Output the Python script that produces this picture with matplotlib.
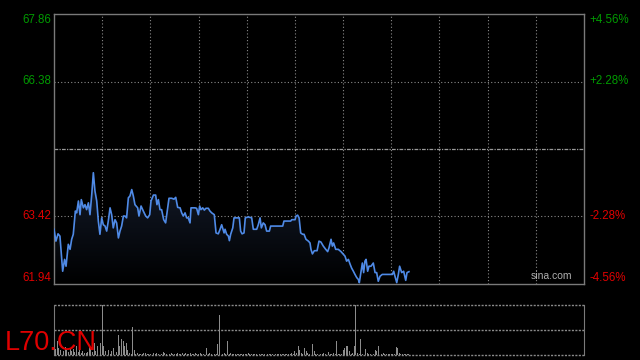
import numpy as np
import matplotlib.pyplot as plt
from matplotlib.patches import Polygon

# intraday price path: minute since open, price
minutes = [0, 1.2, 2.5, 3.7, 5.4, 6.6, 7.5, 8.9, 10.0, 11.0, 12.0, 13.3, 14.1, 15.2, 16.2,
           17.0, 18.3, 19.3, 20.3, 21.4, 22.4, 23.5, 24.5, 25.5, 26.6, 27.6, 28.6, 29.7,
           30.7, 31.8, 32.8, 33.8, 34.9, 35.9, 36.9, 38.0, 39.0, 40.1, 41.1, 42.1, 43.2,
           44.2, 45.2, 46.3, 47.3, 48.4, 49.4, 50.4, 52.1, 52.9, 54.2, 55.6, 57.1, 58.3,
           59.6, 60.4, 61.9, 63.3, 64.1, 65.0, 66.0, 67.0, 68.3, 69.5, 70.8, 71.6, 73.3,
           74.7, 75.8, 77.0, 78.5, 79.5, 80.5, 81.6, 82.6, 83.6, 84.7, 85.3, 86.1, 87.8,
           88.8, 89.9, 90.7, 91.5, 92.6, 93.6, 94.6, 96.1, 97.1, 98.2, 99.8, 100.9, 102.3,
           103.4, 104.4, 105.9, 106.5, 107.5, 108.6, 109.2, 110.0, 111.3, 112.1, 113.7,
           115.4, 116.2, 117.1, 118.3, 119.1, 121.0, 123.1, 124.1, 126.2, 127.2, 128.3,
           129.1, 130.3, 131.4, 132.4, 134.1, 134.9, 138.6, 142.4, 143.2, 147.4, 148.0,
           150.1, 150.7, 151.7, 152.6, 153.6, 154.8, 155.7, 156.9, 158.4, 159.4, 160.0,
           160.9, 162.1, 163.8, 165.0, 166.2, 167.7, 169.2, 170.4, 171.2, 172.5, 173.3,
           174.1, 175.4, 177.0, 178.7, 180.2, 181.2, 182.2, 183.3, 184.3, 185.3, 186.4,
           187.4, 188.5, 189.5, 190.1, 191.2, 192.0, 192.8, 193.6, 194.3, 195.3, 196.1,
           197.4, 198.8, 199.9, 200.9, 201.9, 203.0, 204.4, 210.7, 211.5, 212.3, 213.4,
           214.4, 215.2, 216.5, 217.7, 219.0, 219.8, 221.0]
prices = [63.14, 62.88, 63.04, 62.99, 62.22, 62.48, 62.33, 62.81, 62.70, 62.92, 63.03, 63.54,
          63.50, 63.76, 63.46, 63.79, 63.61, 63.68, 63.57, 63.72, 63.46, 63.90, 64.38, 63.98,
          63.76, 63.32, 63.03, 63.39, 63.24, 63.21, 63.10, 63.32, 63.61, 63.46, 63.17, 63.35,
          63.28, 62.95, 63.10, 63.21, 63.43, 63.43, 63.39, 63.83, 63.87, 64.01, 63.87, 63.68,
          63.61, 63.43, 63.65, 63.54, 63.43, 63.39, 63.46, 63.76, 63.89, 63.89, 63.68, 63.79,
          63.57, 63.57, 63.35, 63.28, 63.61, 63.82, 63.82, 63.80, 63.84, 63.62, 63.61, 63.50,
          63.43, 63.50, 63.39, 63.39, 63.28, 63.61, 63.61, 63.61, 63.60, 63.46, 63.65, 63.57,
          63.61, 63.56, 63.60, 63.60, 63.54, 63.50, 63.46, 63.06, 63.04, 63.14, 63.24, 63.06,
          63.14, 63.03, 62.99, 62.89, 63.03, 63.17, 63.39, 63.39, 63.39, 63.10, 63.04, 63.06,
          63.39, 63.41, 63.39, 63.14, 63.14, 63.24, 63.39, 63.17, 63.28, 63.24, 63.10, 63.10,
          63.21, 63.21, 63.21, 63.32, 63.32, 63.35, 63.35, 63.43, 63.45, 63.39, 63.06, 63.03,
          63.03, 62.92, 62.88, 62.84, 62.70, 62.60, 62.67, 62.67, 62.88, 62.86, 62.77, 62.70,
          62.65, 62.73, 62.92, 62.77, 62.84, 62.70, 62.70, 62.65, 62.59, 62.55, 62.44, 62.48,
          62.38, 62.29, 62.22, 62.15, 62.08, 62.04, 61.97, 62.22, 62.40, 62.19, 62.44, 62.48,
          62.22, 62.33, 62.33, 62.40, 62.19, 62.19, 62.00, 62.11, 62.15, 62.15, 62.22, 62.11,
          61.97, 62.15, 62.33, 62.19, 62.22, 62.02, 62.19, 62.21]

# per-minute volume, relative to the largest bar
volume = [30, 12, 27, 13, 10, 18, 8, 15, 10, 6, 14, 8, 12, 5, 17, 6, 10, 4, 7, 4,
          3, 6, 17, 13, 5, 24, 8, 17, 30, 24, 99, 17, 7, 3, 10, 2, 7, 13, 3, 5,
          40, 17, 32, 28, 17, 24, 10, 3, 2, 55, 10, 2, 3, 2, 1, 2, 4, 3, 2, 1,
          2, 10, 3, 2, 3, 1, 2, 1, 5, 3, 1, 2, 1, 3, 2, 1, 2, 3, 1, 2,
          4, 2, 3, 1, 2, 3, 1, 1, 3, 1, 2, 3, 1, 2, 1, 13, 2, 3, 1, 2,
          1, 2, 22, 79, 3, 2, 3, 1, 28, 2, 3, 2, 1, 2, 2, 1, 2, 1, 2, 1,
          2, 3, 1, 2, 1, 2, 1, 2, 1, 2, 1, 2, 1, 2, 1, 2, 1, 2, 1, 2,
          1, 2, 1, 2, 1, 2, 1, 2, 3, 2, 7, 4, 17, 10, 3, 2, 13, 8, 3, 2,
          3, 22, 7, 2, 2, 1, 2, 1, 3, 2, 3, 5, 2, 1, 3, 2, 28, 1, 2, 2,
          10, 13, 17, 17, 7, 2, 3, 17, 99, 3, 2, 32, 2, 13, 11, 3, 2, 2, 8, 2,
          10, 7, 18, 54, 2, 3, 2, 1, 2, 1, 2, 1, 2, 15, 13, 3, 2, 1, 2, 1,
          1, 2]

prev_close = 64.90
y_lo, y_hi = 61.94, 67.86
left_labels = ["67.86", "66.38", "63.42", "61.94"]
right_labels = ["+4.56%", "+2.28%", "-2.28%", "-4.56%"]
label_vals = [67.86, 66.38, 63.42, 61.94]

green = "#009a00"
red = "#e00000"
grid_c = "#8a8a8a"
frame_c = "#7a7a7a"

plt.rcParams['font.family'] = ['Liberation Sans', 'DejaVu Sans']
fig = plt.figure(figsize=(6.4, 3.6), dpi=100, facecolor='black')

ax = fig.add_axes([54/640, 1-284/360, 530/640, 270/360], facecolor='black')
ax.set_xlim(0, 330)
ax.set_ylim(y_lo, y_hi)

for x in range(30, 330, 30):
    ax.axvline(x, color=grid_c, lw=0.8, ls=(0, (1, 2)), zorder=1)
for v in [66.38, 63.42]:
    ax.axhline(v, color=grid_c, lw=0.8, ls=(0, (1, 2)), zorder=1)
ax.axhline(prev_close, color="#9a9a9a", lw=0.9, ls=(0, (3, 1, 1, 1)), zorder=1)

# gradient fill under the line
grad = np.linspace(0, 1, 256).reshape(-1, 1)
img = ax.imshow(grad, extent=[0, 330, y_lo, 64.4], origin='lower', aspect='auto',
                cmap=plt.matplotlib.colors.LinearSegmentedColormap.from_list(
                    'f', ['#000000', '#141c2c']), zorder=2)
poly = Polygon(list(zip(minutes, prices)) + [(minutes[-1], y_lo), (minutes[0], y_lo)],
               closed=True, facecolor='none', edgecolor='none')
ax.add_patch(poly)
img.set_clip_path(poly)
ax.set_xlim(0, 330)
ax.set_ylim(y_lo, y_hi)

ax.plot(minutes, prices, color="#4f8ae6", lw=1.2, zorder=3)

for s in ax.spines.values():
    s.set_color(frame_c)
    s.set_linewidth(1.0)
ax.set_xticks([])
ax.set_yticks([])

# top labels sit a bit below the frame, bottom labels a bit above
offsets = [6, 0, 0, -6]
for val, ll, rl, off in zip(label_vals, left_labels, right_labels, offsets):
    c = green if val > prev_close else red
    y = ax.transData.transform((0, val))[1]
    fy = (y - off) / 360
    fig.text(51/640, fy, ll, color=c, fontsize=8.3, ha='right', va='center')
    fig.text(589/640, fy, rl, color=c, fontsize=8.3, ha='left', va='center')

ax.text(0.978, 0.012, "sina.com", transform=ax.transAxes, color="#b0b0b0",
        fontsize=7.5, ha='right', va='bottom', zorder=5)

# volume panel
vx = fig.add_axes([54/640, 1-354.7/360, 530/640, 49.7/360], facecolor='black')
vx.bar(np.arange(len(volume)), volume, width=0.55, color="#8c8c8c", zorder=2)
vx.set_xlim(0, 330)
vx.set_ylim(0, 100)
for v in [100, 50, 0]:
    vx.axhline(v, color=grid_c, lw=1.0, ls=(0, (1.5, 1)), zorder=1, clip_on=False)
vx.spines['top'].set_visible(False)
vx.spines['bottom'].set_visible(False)
vx.spines['left'].set_color(frame_c)
vx.spines['right'].set_color(frame_c)
vx.set_xticks([])
vx.set_yticks([])

fig.text(5/640, 1-350/360, "L70.CN", color=red, fontsize=19.5, ha='left',
         va='baseline', zorder=10)

fig.savefig("out.png", dpi=100, facecolor='black')
